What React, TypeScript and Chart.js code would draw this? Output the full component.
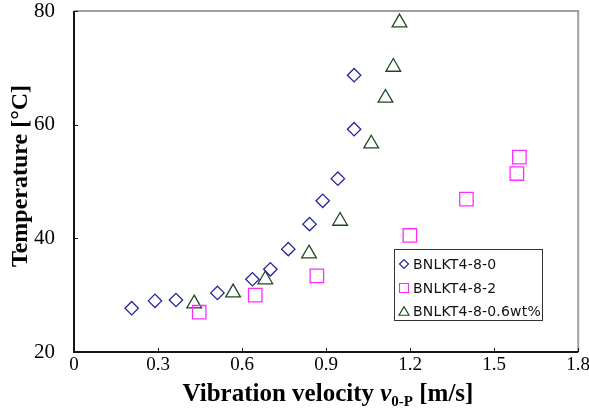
import React, { useEffect, useRef } from 'react';
import { Chart, registerables } from 'chart.js';

Chart.register(...registerables);

const seriesNames = ['BNLKT4-8-0', 'BNLKT4-8-2', 'BNLKT4-8-0.6wt%'];
const seriesColors = ['#25259c', '#ff2cff', '#1e4a1e'];

const xTicks = [0, 0.3, 0.6, 0.9, 1.2, 1.5, 1.8];
const xTickLabels = ['0', '0.3', '0.6', '0.9', '1.2', '1.5', '1.8'];
const yTicks = [20, 40, 60, 80];
const yTickLabels = ['20', '40', '60', '80'];

const s0x = [0.206, 0.289, 0.364, 0.512, 0.637, 0.701, 0.765, 0.841, 0.888, 0.942, 1.0, 1.0];
const s0y = [27.7, 29.0, 29.15, 30.4, 32.8, 34.55, 38.1, 42.5, 46.6, 50.5, 59.2, 68.7];

const s1x = [0.447, 0.647, 0.867, 1.199, 1.401, 1.581, 1.59];
const s1y = [27.0, 30.0, 33.4, 40.5, 46.9, 51.4, 54.3];

const s2x = [0.429, 0.568, 0.683, 0.839, 0.95, 1.061, 1.112, 1.14, 1.162];
const s2y = [28.5, 30.45, 32.75, 37.3, 43.05, 56.65, 64.7, 70.15, 77.95];

const xTitleParts = ['Vibration velocity ', 'v', '0-P', ' [m/s]'];
const yTitle = 'Temperature [\u00B0C]';

const SERIF = '"Liberation Serif", "Times New Roman", serif';
const SANS = '"DejaVu Sans", "Liberation Sans", sans-serif';

function pts(xs: number[], ys: number[]) {
  return xs.map((x, i) => ({ x, y: ys[i] }));
}

function drawMarker(ctx: CanvasRenderingContext2D, kind: number, x: number, y: number, r: number) {
  ctx.beginPath();
  if (kind === 0) {
    ctx.moveTo(x - r, y);
    ctx.lineTo(x, y - r);
    ctx.lineTo(x + r, y);
    ctx.lineTo(x, y + r);
    ctx.closePath();
  } else if (kind === 1) {
    ctx.rect(x - r, y - r, 2 * r, 2 * r);
  } else {
    const h = r * 1.7;
    ctx.moveTo(x, y - h / 2);
    ctx.lineTo(x + r, y + h / 2);
    ctx.lineTo(x - r, y + h / 2);
    ctx.closePath();
  }
  ctx.stroke();
}

const decorPlugin = {
  id: 'decor',
  afterDraw(chart: any) {
    const { ctx, chartArea } = chart;
    const { left, right, top, bottom } = chartArea;
    const xs = chart.scales.x;
    const ys = chart.scales.y;
    ctx.save();
    // frame: grey top/right
    ctx.strokeStyle = '#a0a0a0';
    ctx.lineWidth = 2;
    ctx.beginPath();
    ctx.moveTo(left, top);
    ctx.lineTo(right, top);
    ctx.lineTo(right, bottom);
    ctx.stroke();
    // black left/bottom
    ctx.strokeStyle = '#151515';
    ctx.lineWidth = 2;
    ctx.beginPath();
    ctx.moveTo(left, top);
    ctx.lineTo(left, bottom);
    ctx.lineTo(right, bottom);
    ctx.stroke();
    // inside ticks
    ctx.lineWidth = 1;
    ctx.beginPath();
    xTicks.forEach((v) => {
      const px = Math.round(xs.getPixelForValue(v)) + 0.5;
      ctx.moveTo(px, bottom);
      ctx.lineTo(px, bottom - 4);
    });
    yTicks.forEach((v) => {
      const py = Math.round(ys.getPixelForValue(v)) + 0.5;
      ctx.moveTo(left, py);
      ctx.lineTo(left + 4, py);
    });
    ctx.stroke();

    // y title
    ctx.fillStyle = '#000';
    ctx.font = `bold 24px ${SERIF}`;
    ctx.textAlign = 'center';
    ctx.textBaseline = 'middle';
    ctx.save();
    ctx.translate(21, 176);
    ctx.rotate(-Math.PI / 2);
    ctx.fillText(yTitle, 0, 0);
    ctx.restore();

    // x title with italic v and subscript
    const fMain = `bold 25px ${SERIF}`;
    const fItal = `italic bold 25px ${SERIF}`;
    const fSub = `bold 15px ${SERIF}`;
    const fonts = [fMain, fItal, fSub, fMain];
    const widths = xTitleParts.map((t, i) => {
      ctx.font = fonts[i];
      return ctx.measureText(t).width;
    });
    const total = widths.reduce((a, b) => a + b, 0);
    let cx = 328 - total / 2;
    const base = 401;
    ctx.textAlign = 'left';
    ctx.textBaseline = 'alphabetic';
    xTitleParts.forEach((t, i) => {
      ctx.font = fonts[i];
      ctx.fillText(t, cx, i === 2 ? base + 5 : base);
      cx += widths[i];
    });

    // legend
    const lx = 394, ly = 249, lw = 148, lh = 71;
    ctx.fillStyle = '#fff';
    ctx.fillRect(lx, ly, lw, lh);
    ctx.strokeStyle = '#333';
    ctx.lineWidth = 1;
    ctx.strokeRect(lx + 0.5, ly + 0.5, lw, lh);
    const rowY = [264, 288, 311];
    ctx.font = `14px ${SANS}`;
    try {
      (ctx as any).letterSpacing = '0.2px';
    } catch (e) {}
    ctx.textBaseline = 'middle';
    ctx.textAlign = 'left';
    seriesNames.forEach((name, i) => {
      ctx.strokeStyle = seriesColors[i];
      ctx.lineWidth = 1.2;
      drawMarker(ctx, i, 404, rowY[i], i === 2 ? 5 : 4.5);
      ctx.fillStyle = '#111';
      ctx.fillText(name, 413, rowY[i] + 1);
    });
    try {
      (ctx as any).letterSpacing = '0px';
    } catch (e) {}
    ctx.restore();
  },
};

export default function App() {
  const ref = useRef<HTMLCanvasElement | null>(null);
  useEffect(() => {
    if (!ref.current) return;
    const chart = new Chart(ref.current, {
      type: 'scatter',
      data: {
        datasets: [
          {
            label: seriesNames[0],
            data: pts(s0x, s0y),
            pointStyle: 'rectRot',
            pointRadius: 6.7,
            borderColor: seriesColors[0],
            backgroundColor: 'rgba(0,0,0,0)',
            pointBorderWidth: 1.3,
          },
          {
            label: seriesNames[1],
            data: pts(s1x, s1y),
            pointStyle: 'rect',
            pointRadius: 9.5,
            borderColor: seriesColors[1],
            backgroundColor: 'rgba(0,0,0,0)',
            pointBorderWidth: 1.3,
          },
          {
            label: seriesNames[2],
            data: pts(s2x, s2y),
            pointStyle: 'triangle',
            pointRadius: 8.5,
            borderColor: seriesColors[2],
            backgroundColor: 'rgba(0,0,0,0)',
            pointBorderWidth: 1.3,
          },
        ],
      },
      options: {
        animation: false,
        responsive: false,
        events: [],
        layout: { padding: { top: 11, right: 10, left: 0, bottom: 0 } },
        plugins: { legend: { display: false }, tooltip: { enabled: false } },
        scales: {
          x: {
            type: 'linear',
            min: 0,
            max: 1.8,
            grid: { display: false },
            border: { display: false },
            afterBuildTicks: (s: any) => {
              s.ticks = xTicks.map((v) => ({ value: v }));
            },
            afterFit: (s: any) => {
              s.height = 57;
              s.paddingLeft = 0;
              s.paddingRight = 0;
            },
            ticks: {
              autoSkip: false,
              maxRotation: 0,
              padding: -6,
              color: '#000',
              font: { family: SERIF, size: 19 },
              callback: (_v: any, i: number) => xTickLabels[i],
            },
          },
          y: {
            type: 'linear',
            min: 20,
            max: 80,
            grid: { display: false },
            border: { display: false },
            afterBuildTicks: (s: any) => {
              s.ticks = yTicks.map((v) => ({ value: v }));
            },
            afterFit: (s: any) => {
              s.width = 74;
              s.paddingTop = 0;
              s.paddingBottom = 0;
            },
            ticks: {
              autoSkip: false,
              padding: 11,
              color: '#000',
              font: { family: SERIF, size: 21 },
              callback: (_v: any, i: number) => yTickLabels[i],
            },
          },
        },
      },
      plugins: [decorPlugin],
    } as any);
    return () => chart.destroy();
  }, []);
  return (
    <div style={{ position: 'fixed', left: 0, top: 0, width: 589, height: 409, background: '#fff' }}>
      <canvas ref={ref} width={589} height={409} />
    </div>
  );
}
